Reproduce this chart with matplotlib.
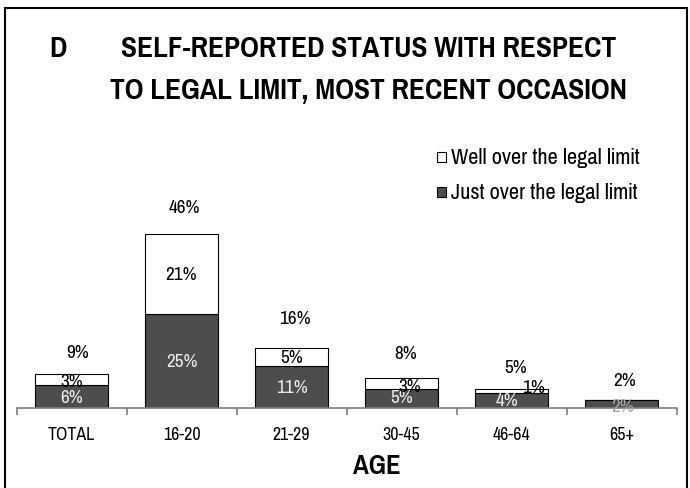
import matplotlib
matplotlib.use("Agg")
import matplotlib.pyplot as plt
from matplotlib.patches import Rectangle
import numpy as np

# age groups and percentages
groups = ["TOTAL", "16-20", "21-29", "30-45", "46-64", "65+"]
just_over = [6, 25, 11, 5, 4, 2]
well_over = [3, 21, 5, 3, 1, 0]
totals = [9, 46, 16, 8, 5, 2]

plt.rcParams["font.family"] = ["Pragati Narrow", "PT Sans Narrow", "DejaVu Sans"]

dark = "#4d4d4d"
fig = plt.figure(figsize=(6.9, 4.89), dpi=100)
W, H = 690, 489

# plot area in pixel terms
left, right, base, top = 16.5, 676.5, 409, 150
ax = fig.add_axes([left / W, (H - base) / H, (right - left) / W, (base - top) / H])
px_per = 3.78
ax.set_ylim(0, (base - top) / px_per)
ax.set_xlim(-0.5, len(groups) - 0.5)

x = np.arange(len(groups))
bw = 0.67
ax.bar(x, just_over, bw, color=dark, edgecolor="black", linewidth=0.8, zorder=2)
ax.bar(x, well_over, bw, bottom=just_over, color="white", edgecolor="black",
       linewidth=0.8, zorder=2)

fs = 15
# totals above each bar (pixel nudges)
tot_dx = [6, 3, 3, 4, 4, 3]
tot_dy = [22, 27, 30, 25, 22, 20]
for i, t in enumerate(totals):
    ax.annotate(f"{t}%", (x[i], t), xytext=(tot_dx[i], tot_dy[i]),
                textcoords="offset pixels", ha="center", va="center",
                fontsize=fs, color="black")

# segment labels (small segments get nudged)
dark_off = {3: (0, 2), 4: (-5, 0), 5: (1, -2)}
well_off = {0: (0, -1), 3: (8, -3), 4: (22, 4)}
for i in range(len(groups)):
    dx, dy = dark_off.get(i, (0, 0))
    col = "#a6a6a6" if i == 5 else "#ececec"
    ax.annotate(f"{just_over[i]}%", (x[i], just_over[i] / 2), xytext=(dx, dy),
                textcoords="offset pixels", ha="center", va="center",
                fontsize=fs, color=col, zorder=3)
    if well_over[i] > 0:
        dx, dy = well_off.get(i, (0, 0))
        ax.annotate(f"{well_over[i]}%", (x[i], just_over[i] + well_over[i] / 2),
                    xytext=(dx, dy), textcoords="offset pixels", ha="center",
                    va="center", fontsize=fs, color="black", zorder=3)

for s in ["left", "right", "top"]:
    ax.spines[s].set_visible(False)
ax.spines["bottom"].set_color("#7f7f7f")
ax.spines["bottom"].set_linewidth(1.2)
ax.set_yticks([])
ax.set_xticks(x)
ax.set_xticklabels(groups, fontsize=14)
ax.tick_params(axis="x", which="major", length=0, pad=13)
ax.set_xticks(np.arange(-0.5, len(groups)), minor=True)
ax.tick_params(axis="x", which="minor", length=5, color="#7f7f7f", width=1.2)
ax.set_xlabel("AGE", fontsize=21, fontweight="bold")
ax.xaxis.set_label_coords((377 - left) / (right - left), -(467 - base) / (base - top))
ax.xaxis.label.set_va("center")

# title block
tfs = 23
fig.text(58 / W, 1 - 49 / H, "D", fontsize=tfs, fontweight="bold", ha="center", va="center")
fig.text(369 / W, 1 - 49 / H, "SELF-REPORTED STATUS WITH RESPECT", fontsize=tfs,
         fontweight="bold", ha="center", va="center")
fig.text(369 / W, 1 - 91 / H, "TO LEGAL LIMIT, MOST RECENT OCCASION", fontsize=tfs,
         fontweight="bold", ha="center", va="center")

# legend drawn as squares and text
for yy, fc, lab in [(158, "white", "Well over the legal limit"),
                    (193, dark, "Just over the legal limit")]:
    fig.patches.append(Rectangle((437 / W, 1 - (yy + 5) / H), 9 / W, 10 / H,
                                 transform=fig.transFigure, facecolor=fc,
                                 edgecolor="black", linewidth=0.8))
    fig.text(451 / W, 1 - yy / H, lab, fontsize=17.5, ha="left", va="center")

# frame around the figure
fig.patches.append(Rectangle((4.5 / W, -0.05), 682 / W, 1.05 - 9 / H,
                             transform=fig.transFigure, facecolor="none",
                             edgecolor="black", linewidth=1.5))

fig.savefig("out.png", dpi=100)
